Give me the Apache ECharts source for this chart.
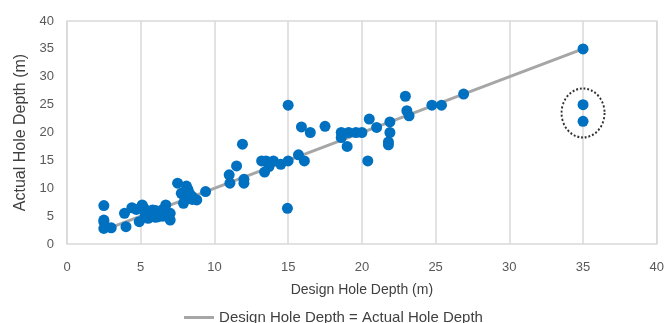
<!DOCTYPE html>
<html>
<head>
<meta charset="utf-8">
<script src="https://cdn.jsdelivr.net/npm/echarts@6/dist/echarts.min.js"></script>
<style>html,body{margin:0;padding:0;background:#fff}#c{width:667px;height:323px}</style>
</head>
<body>
<div id="c"></div>
<script>
var designDepth = [2.5,2.5,2.5,2.5,3.0,4.0,3.9,4.4,5.1,4.9,5.8,5.5,6.2,6.7,7.0,7.0,5.3,6.0,6.5,7.5,8.1,7.75,8.3,7.9,8.8,9.4,8.5,8.0,
  5.5,6.0,6.5,5.2,4.7,6.0,8.0,8.5,8.2,
  11.0,11.05,11.5,11.9,12.0,12.0,13.2,13.5,14.0,13.7,13.4,14.5,15.0,15.0,14.95,15.7,15.9,16.1,
  16.5,17.5,18.6,18.6,19.1,19.6,20.0,19.0,20.4,20.5,21.0,21.9,21.9,21.8,21.8,
  22.95,23.05,23.2,24.75,25.4,26.9,35,35,35];
var actualDepth = [6.9,4.3,4.0,2.8,2.9,3.1,5.5,6.5,7.0,4.0,6.1,4.6,4.9,7.0,4.3,5.5,5.2,5.6,6.2,10.9,10.4,9.1,9.1,7.3,7.9,9.4,8.5,8.1,
  5.5,6.0,5.0,6.5,6.2,4.8,8.6,8.0,9.8,
  12.4,10.9,14.0,17.9,11.6,10.9,14.9,14.9,14.9,13.9,12.9,14.3,14.9,24.9,6.4,16.0,21.0,14.9,
  20.0,21.1,20.0,19.1,20.0,20.0,20.0,17.5,14.9,22.4,20.9,21.9,20.0,18.3,17.8,
  26.5,23.9,23.0,24.9,24.9,26.9,35,25,22];
var refLine = [[2.5,2.5],[35,35]];
var highlightCenter = [[35,23.5]];
var axisTicks = {min:0, max:40, interval:5};
var lineName = 'Design Hole Depth = Actual Hole Depth';

var pts = designDepth.map(function(x,i){return [x, actualDepth[i]];});
var font = 'Liberation Sans, Arial, sans-serif';
var chart = echarts.init(document.getElementById('c'), null, {renderer:'canvas'});
chart.setOption({
  animation:false,
  grid:{left:67,right:9,top:21,bottom:79,show:true,borderColor:'#d9d9d9',borderWidth:1.5},
  legend:{top:305,left:'center',data:[{name:lineName,icon:'rect'}],itemWidth:30,itemHeight:3,itemGap:5,
    textStyle:{fontFamily:font,fontSize:15,color:'#404040'}},
  xAxis:{type:'value',min:axisTicks.min,max:axisTicks.max,interval:axisTicks.interval,
    axisLine:{show:false},axisTick:{show:false},
    splitLine:{show:true,lineStyle:{color:'#d9d9d9',width:1.5}},
    axisLabel:{margin:17,fontFamily:font,fontSize:13,color:'#595959'},
    name:'Design Hole Depth (m)',nameLocation:'middle',nameGap:39,
    nameTextStyle:{fontFamily:font,fontSize:14,color:'#404040'}},
  yAxis:{type:'value',min:axisTicks.min,max:axisTicks.max,interval:axisTicks.interval,
    axisLine:{show:false},axisTick:{show:false},splitLine:{show:false},
    axisLabel:{margin:13,fontFamily:font,fontSize:13,color:'#595959'},
    name:'Actual Hole Depth (m)',nameLocation:'middle',nameGap:36,
    nameTextStyle:{fontFamily:font,fontSize:16,color:'#404040'}},
  series:[
    {name:lineName,type:'line',data:refLine,symbol:'none',z:2,
      lineStyle:{color:'#a6a6a6',width:3},itemStyle:{color:'#a6a6a6'}},
    {name:'points',type:'scatter',data:pts,symbol:'circle',symbolSize:11,z:3,
      itemStyle:{color:'#0070c0',opacity:1}},
    {name:'highlight',type:'scatter',data:highlightCenter,symbol:'circle',symbolSize:[43,49],z:4,silent:true,
      itemStyle:{color:'rgba(0,0,0,0)',borderColor:'#000',borderWidth:2,borderType:[2,2]}}
  ]
});
</script>
</body>
</html>
